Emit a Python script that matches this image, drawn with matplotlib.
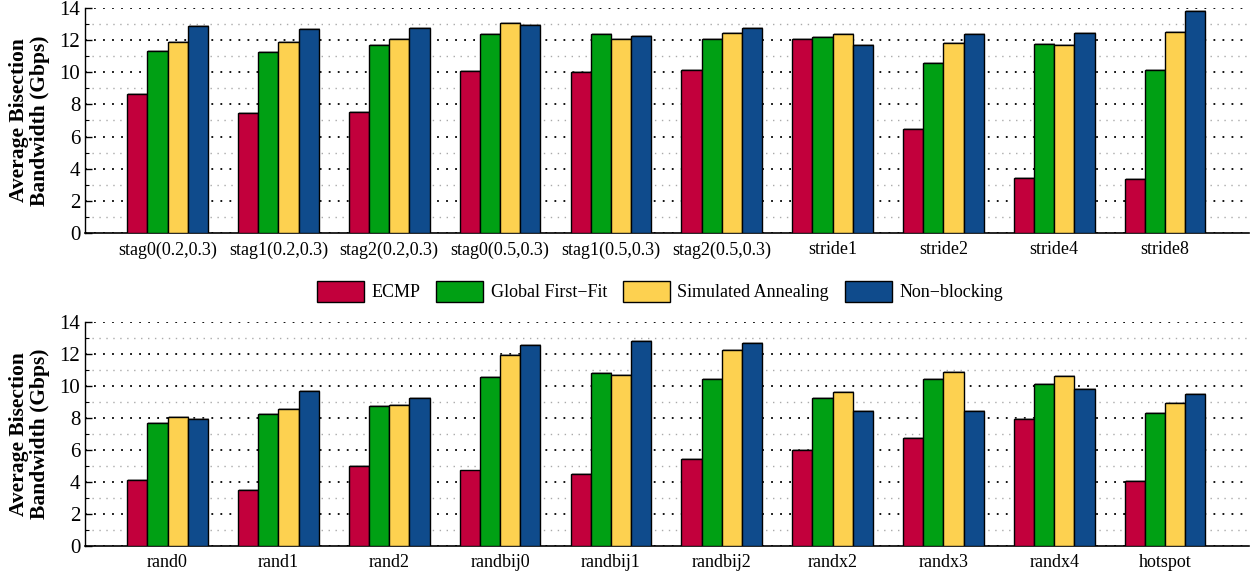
import numpy as np
import matplotlib
matplotlib.use("Agg")
import matplotlib.pyplot as plt
from matplotlib.patches import Patch
import matplotlib.patheffects as pe

plt.rcParams['font.family'] = ['Liberation Serif', 'DejaVu Serif']
plt.rcParams['font.size'] = 13

schemes = ['ECMP', 'Global First\u2212Fit', 'Simulated Annealing', 'Non\u2212blocking']
colors = ['#C2003C', '#00A014', '#FDD150', '#0F4B8C']

# top panel: staggered + stride patterns
top_labels = ['stag0(0.2,0.3)', 'stag1(0.2,0.3)', 'stag2(0.2,0.3)', 'stag0(0.5,0.3)',
              'stag1(0.5,0.3)', 'stag2(0.5,0.3)', 'stride1', 'stride2', 'stride4', 'stride8']
top_ecmp = [8.65, 7.45, 7.53, 10.1, 10.0, 10.15, 12.05, 6.49, 3.44, 3.38]
top_gff = [11.35, 11.26, 11.68, 12.4, 12.36, 12.07, 12.22, 10.6, 11.74, 10.14]
top_sa = [11.9, 11.88, 12.07, 13.05, 12.05, 12.44, 12.4, 11.84, 11.68, 12.51]
top_nb = [12.9, 12.67, 12.78, 12.95, 12.26, 12.76, 11.7, 12.36, 12.43, 13.8]

# bottom panel: random patterns + hotspot
bot_labels = ['rand0', 'rand1', 'rand2', 'randbij0', 'randbij1', 'randbij2',
              'randx2', 'randx3', 'randx4', 'hotspot']
bot_ecmp = [4.10, 3.49, 5.01, 4.72, 4.49, 5.45, 6.01, 6.78, 7.91, 4.08]
bot_gff = [7.68, 8.26, 8.74, 10.59, 10.80, 10.42, 9.26, 10.42, 10.13, 8.30]
bot_sa = [8.05, 8.59, 8.82, 11.94, 10.71, 12.23, 9.61, 10.86, 10.65, 8.95]
bot_nb = [7.95, 9.67, 9.24, 12.59, 12.84, 12.69, 8.45, 8.43, 9.82, 9.51]

fig = plt.figure(figsize=(12.5, 5.73), dpi=100)
ax_top = fig.add_axes([0.068, 0.5934, 0.931, 0.3927])
ax_bot = fig.add_axes([0.068, 0.0471, 0.931, 0.3910])

shadow = [pe.SimplePatchShadow(offset=(0.7, 0.7), shadow_rgbFace='#666666', alpha=0.5), pe.Normal()]
w = 0.182

def draw(ax, labels, series):
    x = np.arange(len(labels))
    for i, (vals, c) in enumerate(zip(series, colors)):
        bars = ax.bar(x + (i - 1.5) * w, vals, w, color=c, edgecolor='black',
                      linewidth=1.0, zorder=3)
        for b in bars:
            b.set_path_effects(shadow)
    ax.set_xlim(-0.745, len(labels) - 0.245)
    ax.set_ylim(0, 14)
    ax.set_xticks(x)
    ax.set_xticklabels(labels)
    ax.set_yticks(np.arange(0, 15, 2))
    ax.set_yticks(np.arange(1, 14, 2), minor=True)
    ax.tick_params(axis='y', which='major', direction='in', length=5, width=1, labelsize=15)
    ax.tick_params(axis='y', which='minor', direction='in', length=3, width=0.8)
    ax.tick_params(axis='x', which='both', length=0, labelsize=13, pad=6)
    ax.grid(axis='y', which='major', linestyle=(0, (1, 4)), color='black', linewidth=1.3, zorder=0)
    ax.grid(axis='y', which='minor', linestyle=(0, (1, 4)), color='#aaaaaa', linewidth=1.0, zorder=0)
    for s in ['top', 'right']:
        ax.spines[s].set_visible(False)
    ax.spines['left'].set_linewidth(1.0)
    ax.spines['bottom'].set_linewidth(1.2)
    ax.set_axisbelow(True)
    ax.set_ylabel('Average Bisection\nBandwidth (Gbps)', fontweight='bold', fontsize=15.5,
                  linespacing=1.05, labelpad=7)

draw(ax_top, top_labels, [top_ecmp, top_gff, top_sa, top_nb])
draw(ax_bot, bot_labels, [bot_ecmp, bot_gff, bot_sa, bot_nb])

handles = [Patch(facecolor=c, edgecolor='black', linewidth=1.0) for c in colors]
fig.legend(handles, schemes, loc='center', bbox_to_anchor=(0.528, 0.492), ncol=4,
           frameon=False, fontsize=13, handlelength=2.6, handleheight=1.4,
           handletextpad=0.4, columnspacing=0.9)

fig.savefig('out.png', dpi=100)
